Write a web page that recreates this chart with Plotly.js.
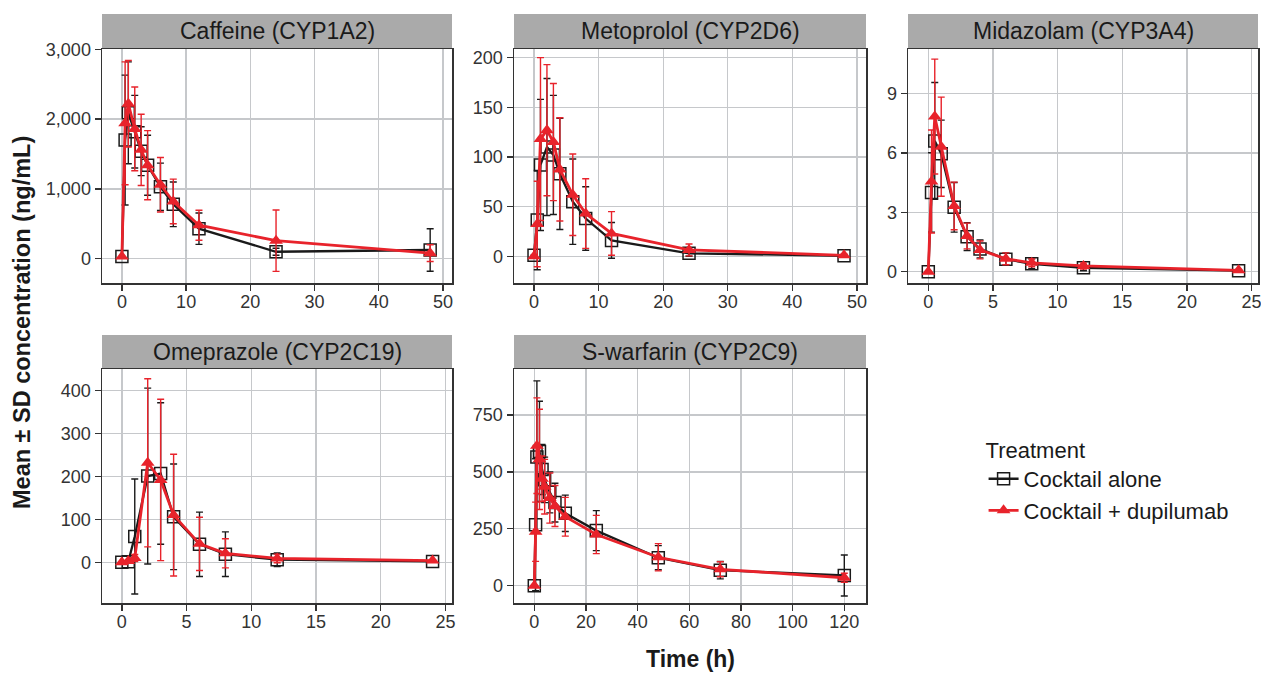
<!DOCTYPE html>
<html><head><meta charset="utf-8">
<script src="https://cdn.plot.ly/plotly-3.0.1.min.js"></script>
<style>html,body{margin:0;padding:0;background:#fff}#chart{width:1261px;height:673px}</style>
</head><body><div id="chart"></div>
<script>
// ---- Data ----
const panelTitles = ["Caffeine (CYP1A2)", "Metoprolol (CYP2D6)", "Midazolam (CYP3A4)", "Omeprazole (CYP2C19)", "S-warfarin (CYP2C9)"];
const seriesNames = ["Cocktail alone", "Cocktail + dupilumab"];

const caffeineTime = [0, 0.5, 1, 2, 3, 4, 6, 8, 12, 24, 48];
const caffeineAlone = [30, 1700, 2090, 1820, 1540, 1340, 1030, 780, 430, 100, 125];
const caffeineAloneSD = [0, 930, 730, 520, 350, 430, 340, 320, 225, 50, 305];
const caffeineDupi = [30, 1940, 2220, 1860, 1560, 1340, 1060, 820, 480, 258, 80];
const caffeineDupiSD = [0, 880, 620, 600, 510, 495, 390, 320, 215, 440, 120];

const metoprololTime = [0, 0.5, 1, 2, 3, 4, 6, 8, 12, 24, 48];
const metoprololAlone = [1, 36.5, 92, 110, 102, 83, 55, 38, 16, 3, 0.5];
const metoprololAloneSD = [0, 50, 66, 69, 60, 56, 43, 32, 18, 3, 1];
const metoprololDupi = [0, 32.5, 118, 127, 115, 87.5, 62, 43, 23, 6.4, 1];
const metoprololDupiSD = [0, 43, 82, 66, 59, 52, 41, 35, 22, 6, 1];

const midazolamTime = [0, 0.25, 0.5, 1, 2, 3, 4, 6, 8, 12, 24];
const midazolamAlone = [0, 4.0, 6.6, 5.95, 3.25, 1.77, 1.15, 0.63, 0.4, 0.2, 0.05];
const midazolamAloneSD = [0, 2.0, 2.95, 1.7, 1.25, 0.7, 0.45, 0.3, 0.25, 0.15, 0.05];
const midazolamDupi = [0, 4.55, 7.83, 6.31, 3.32, 1.8, 1.1, 0.65, 0.45, 0.29, 0.07];
const midazolamDupiSD = [0, 2.6, 2.9, 2.5, 1.2, 0.65, 0.45, 0.3, 0.2, 0.15, 0.05];

const omeprazoleTime = [0, 0.5, 1, 2, 3, 4, 6, 8, 12, 24];
const omeprazoleAlone = [0, 1, 60, 201, 207, 106, 42, 19, 6, 2];
const omeprazoleAloneSD = [0, 2, 134, 205, 165, 123, 75, 52, 16, 2];
const omeprazoleDupi = [0, 3, 10, 232, 192, 110, 43, 21, 9, 4];
const omeprazoleDupiSD = [0, 3, 8, 196, 188, 142, 62, 34, 10, 2];

const warfarinTime = [0, 0.5, 1, 2, 3, 4, 6, 8, 12, 24, 48, 72, 120];
const warfarinAlone = [0, 268, 565, 590, 510, 465, 410, 365, 318, 242, 123, 68, 45];
const warfarinAloneSD = [0, 290, 335, 220, 110, 100, 90, 85, 80, 88, 53, 38, 90];
const warfarinDupi = [0, 237, 615, 555, 470, 435, 385, 350, 303, 225, 125, 72, 35];
const warfarinDupiSD = [0, 130, 210, 220, 100, 120, 110, 90, 85, 84, 60, 33, 20];

const xTicks = [[0,10,20,30,40,50],[0,10,20,30,40,50],[0,5,10,15,20,25],[0,5,10,15,20,25],[0,20,40,60,80,100,120]];
const yTicks = [[0,1000,2000,3000],[0,50,100,150,200],[0,3,6,9],[0,100,200,300,400],[0,250,500,750]];

// ---- Layout geometry ----
const W = 1261, H = 673;
const px = v => v / W, py = v => 1 - v / H;
const colX = [[102,452],[514,866],[908,1258]];
const rowY = [[49,283],[369,603]];
const stripY = [[14,48],[335,368]];
const panelPos = [[0,0],[1,0],[2,0],[0,1],[1,1]];
const xRanges = [[-3.1,51.4],[-3.1,51.4],[-1.57,25.5],[-1.53,25.5],[-7.86,128.4]];
const yRanges = [[-348,3005],[-26.9,208.7],[-0.57,11.24],[-94.9,450.6],[-76,952]];

const panels = [
  [caffeineTime, caffeineAlone, caffeineAloneSD, caffeineDupi, caffeineDupiSD],
  [metoprololTime, metoprololAlone, metoprololAloneSD, metoprololDupi, metoprololDupiSD],
  [midazolamTime, midazolamAlone, midazolamAloneSD, midazolamDupi, midazolamDupiSD],
  [omeprazoleTime, omeprazoleAlone, omeprazoleAloneSD, omeprazoleDupi, omeprazoleDupiSD],
  [warfarinTime, warfarinAlone, warfarinAloneSD, warfarinDupi, warfarinDupiSD]
];

const BLACK = '#1a1a1a', RED = '#e8232b';
const FONT = 'Liberation Sans, Arial, Helvetica, sans-serif';
const traces = [];
const layout = {
  width: W, height: H,
  margin: {l:0, r:0, t:0, b:0},
  paper_bgcolor: '#fff', plot_bgcolor: '#fff',
  font: {family: FONT, color: '#1a1a1a'},
  showlegend: true,
  legend: {
    x: 0.780, y: 0.362, xanchor: 'left', yanchor: 'top',
    bgcolor: 'rgba(0,0,0,0)',
    font: {size: 22, color: '#1a1a1a', family: FONT},
    title: {text: 'Treatment', font: {size: 22, color: '#1a1a1a', family: FONT}},
    itemwidth: 30, tracegroupgap: 0
  },
  shapes: [], annotations: []
};

panels.forEach((p, i) => {
  const n = i === 0 ? '' : String(i + 1);
  const [c, r] = panelPos[i];
  const [t, a, aSD, d, dSD] = p;
  traces.push({
    type: 'scatter', mode: 'lines+markers', x: t, y: a, name: seriesNames[0],
    xaxis: 'x' + n, yaxis: 'y' + n, legendgroup: 'a', showlegend: i === 0,
    line: {color: BLACK, width: 2.3},
    marker: {symbol: 'square-open', size: 12, color: BLACK, line: {width: 1.5, color: BLACK}},
    error_y: {type: 'data', array: aSD, visible: true, color: BLACK, thickness: 1.4, width: 3.5}
  });
  traces.push({
    type: 'scatter', mode: 'lines+markers', x: t, y: d, name: seriesNames[1],
    xaxis: 'x' + n, yaxis: 'y' + n, legendgroup: 'b', showlegend: i === 0,
    line: {color: RED, width: 2.8},
    marker: {symbol: 'triangle-up', size: 12, color: RED},
    error_y: {type: 'data', array: dSD, visible: true, color: RED, thickness: 1.4, width: 3.5}
  });
  const axCommon = {
    showgrid: true, gridcolor: '#c6c8cb', gridwidth: 1.4, zeroline: false,
    showline: true, mirror: true, linecolor: '#333', linewidth: 1.5,
    ticks: 'outside', ticklen: 6, tickwidth: 1.4, tickcolor: '#333',
    tickfont: {size: 18, color: '#333', family: FONT}, fixedrange: true
  };
  layout['xaxis' + n] = Object.assign({}, axCommon, {
    domain: [px(colX[c][0]), px(colX[c][1])], range: xRanges[i],
    anchor: 'y' + n, tickmode: 'array', tickvals: xTicks[i], ticktext: xTicks[i].map(String),
    ticklabeloverflow: 'allow', ticklabelstandoff: -4
  });
  layout['yaxis' + n] = Object.assign({}, axCommon, {
    domain: [py(rowY[r][1]), py(rowY[r][0])], range: yRanges[i],
    anchor: 'x' + n, tickmode: 'array', tickvals: yTicks[i],
    ticktext: yTicks[i].map(v => v.toLocaleString('en-US'))
  });
  layout.shapes.push({
    type: 'rect', xref: 'paper', yref: 'paper', layer: 'below',
    x0: px(colX[c][0]), x1: px(colX[c][1]), y0: py(stripY[r][1]), y1: py(stripY[r][0]),
    fillcolor: '#aaaaaa', line: {width: 0}
  });
  layout.annotations.push({
    xref: 'paper', yref: 'paper', showarrow: false,
    x: px((colX[c][0] + colX[c][1]) / 2), y: py((stripY[r][0] + stripY[r][1]) / 2),
    xanchor: 'center', yanchor: 'middle', text: panelTitles[i],
    font: {size: 23, color: '#1a1a1a', family: FONT}
  });
});

layout.annotations.push({
  xref: 'paper', yref: 'paper', showarrow: false, x: px(22), y: py(323),
  xanchor: 'center', yanchor: 'middle', textangle: -90,
  text: '<b>Mean ± SD concentration (ng/mL)</b>', font: {size: 23.5, color: '#1a1a1a', family: FONT}
});
layout.annotations.push({
  xref: 'paper', yref: 'paper', showarrow: false, x: px(690), y: py(659),
  xanchor: 'center', yanchor: 'middle',
  text: '<b>Time (h)</b>', font: {size: 23, color: '#1a1a1a', family: FONT}
});

Plotly.newPlot('chart', traces, layout, {displayModeBar: false, staticPlot: true});
</script></body></html>
